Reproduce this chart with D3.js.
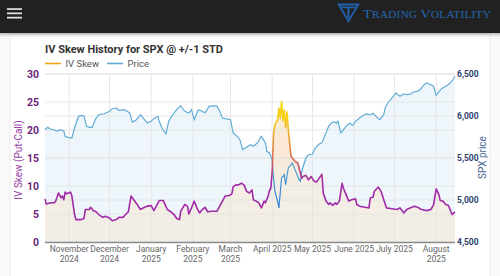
<!DOCTYPE html>
<html>
<head>
<meta charset="utf-8">
<script src="https://cdn.jsdelivr.net/npm/d3@7"></script>
<style>
  body { margin: 0; background: #fff; font-family: Roboto, "Noto Sans", sans-serif; }
</style>
</head>
<body>
<svg id="chart" width="500" height="276"></svg>
<script>
// ---- data ----
const priceDates = ["2024-10-14","2024-10-16","2024-10-18","2024-10-21","2024-10-23","2024-10-25","2024-10-28","2024-10-29","2024-10-31","2024-11-03","2024-11-05","2024-11-07","2024-11-08","2024-11-11","2024-11-12","2024-11-14","2024-11-16","2024-11-18","2024-11-21","2024-11-23","2024-11-27","2024-12-01","2024-12-03","2024-12-06","2024-12-08","2024-12-12","2024-12-14","2024-12-16","2024-12-18","2024-12-21","2024-12-24","2024-12-27","2024-12-29","2025-01-01","2025-01-03","2025-01-06","2025-01-07","2025-01-09","2025-01-12","2025-01-14","2025-01-17","2025-01-20","2025-01-23","2025-01-24","2025-01-26","2025-01-29","2025-01-31","2025-02-02","2025-02-05","2025-02-08","2025-02-10","2025-02-13","2025-02-17","2025-02-19","2025-02-21","2025-02-23","2025-02-25","2025-03-01","2025-03-03","2025-03-06","2025-03-08","2025-03-10","2025-03-12","2025-03-14","2025-03-16","2025-03-18","2025-03-20","2025-03-21","2025-03-23","2025-03-24","2025-03-27","2025-03-28","2025-03-30","2025-03-31","2025-04-01","2025-04-02","2025-04-03","2025-04-05","2025-04-06","2025-04-08","2025-04-10","2025-04-11","2025-04-13","2025-04-15","2025-04-16","2025-04-18","2025-04-21","2025-04-22","2025-04-23","2025-04-26","2025-04-28","2025-05-01","2025-05-03","2025-05-06","2025-05-08","2025-05-10","2025-05-13","2025-05-15","2025-05-17","2025-05-19","2025-05-20","2025-05-22","2025-05-24","2025-05-27","2025-05-29","2025-05-30","2025-05-31","2025-06-02","2025-06-05","2025-06-08","2025-06-10","2025-06-13","2025-06-15","2025-06-18","2025-06-20","2025-06-23","2025-06-24","2025-06-26","2025-06-29","2025-07-02","2025-07-05","2025-07-08","2025-07-10","2025-07-13","2025-07-15","2025-07-18","2025-07-20","2025-07-23","2025-07-25","2025-07-28","2025-07-30","2025-08-01","2025-08-03","2025-08-05","2025-08-08","2025-08-10","2025-08-13","2025-08-15"];
const priceValues = [5837,5865,5845,5833,5818,5837,5821,5758,5746,5738,5857,5956,5996,6008,5996,5877,5865,5865,5976,6015,6027,6056,6087,6095,6068,6075,6056,6036,5928,5956,6015,5956,5917,5937,5968,5996,5937,5857,5789,5937,6015,6075,6123,6095,6056,6036,6075,5956,6075,6056,6036,6115,6123,6115,6056,5976,5968,5956,5798,5758,5718,5599,5619,5639,5658,5639,5667,5679,5738,5758,5679,5580,5560,5520,5480,5262,5104,4985,4905,5262,5301,5182,5381,5420,5440,5361,5242,5223,5342,5500,5539,5548,5619,5667,5680,5758,5877,5917,5929,5917,5937,5798,5837,5896,5917,5896,5889,5937,5976,6008,6024,6015,6032,5984,5956,6015,6095,6155,6214,6274,6235,6262,6254,6262,6286,6294,6313,6373,6393,6373,6354,6246,6286,6325,6354,6373,6420,6473];

const skewDates = ["2024-10-14","2024-10-15","2024-10-18","2024-10-21","2024-10-22","2024-10-24","2024-10-26","2024-10-27","2024-10-28","2024-10-29","2024-10-30","2024-11-02","2024-11-03","2024-11-05","2024-11-06","2024-11-10","2024-11-12","2024-11-13","2024-11-16","2024-11-17","2024-11-19","2024-11-21","2024-11-23","2024-11-26","2024-11-28","2024-12-01","2024-12-03","2024-12-06","2024-12-08","2024-12-11","2024-12-13","2024-12-15","2024-12-17","2024-12-19","2024-12-22","2024-12-24","2024-12-27","2024-12-29","2025-01-01","2025-01-03","2025-01-07","2025-01-10","2025-01-13","2025-01-15","2025-01-18","2025-01-20","2025-01-22","2025-01-23","2025-01-26","2025-01-28","2025-01-29","2025-01-31","2025-02-02","2025-02-04","2025-02-06","2025-02-08","2025-02-10","2025-02-12","2025-02-15","2025-02-19","2025-02-21","2025-02-23","2025-02-25","2025-02-28","2025-03-02","2025-03-03","2025-03-05","2025-03-07","2025-03-09","2025-03-11","2025-03-13","2025-03-15","2025-03-17","2025-03-18","2025-03-20","2025-03-22","2025-03-24","2025-03-26","2025-03-27","2025-03-29","2025-03-30","2025-03-31","2025-04-01","2025-04-02","2025-04-03","2025-04-05","2025-04-06","2025-04-07","2025-04-08","2025-04-09","2025-04-10","2025-04-11","2025-04-12","2025-04-13","2025-04-15","2025-04-16","2025-04-18","2025-04-20","2025-04-21","2025-04-23","2025-04-24","2025-04-26","2025-04-28","2025-04-30","2025-05-02","2025-05-04","2025-05-06","2025-05-08","2025-05-09","2025-05-11","2025-05-13","2025-05-14","2025-05-16","2025-05-18","2025-05-19","2025-05-21","2025-05-23","2025-05-24","2025-05-26","2025-05-28","2025-05-30","2025-06-02","2025-06-03","2025-06-05","2025-06-09","2025-06-12","2025-06-13","2025-06-15","2025-06-16","2025-06-19","2025-06-21","2025-06-23","2025-06-25","2025-06-29","2025-07-03","2025-07-05","2025-07-08","2025-07-10","2025-07-13","2025-07-16","2025-07-19","2025-07-21","2025-07-25","2025-07-28","2025-07-30","2025-08-01","2025-08-03","2025-08-04","2025-08-06","2025-08-08","2025-08-10","2025-08-12","2025-08-13","2025-08-15"];
const skewValues = [7.7,6.8,7.0,7.0,7.3,8.75,7.9,8.2,7.55,8.9,8.6,8.9,8.2,4.9,4.0,4.0,4.2,5.8,5.8,6.2,5.6,5.4,4.9,4.4,4.6,4.3,3.8,4.0,4.4,4.4,4.9,5.4,8.2,7.55,6.55,5.8,6.2,6.4,6.5,5.6,7.4,7.4,5.8,5.5,4.9,4.2,4.0,5.5,6.7,6.4,5.0,6.1,7.3,6.1,5.2,5.8,6.2,5.4,5.5,5.5,6.4,7.3,8.2,8.3,8.6,9.9,10.2,10.2,10.5,10.2,9.05,8.75,9.3,7.55,7.3,7.0,6.1,7.3,7.0,8.2,9.2,9.6,12.6,19.2,20.9,21.8,23.9,22.1,25.1,21.6,23.6,20.4,23.3,20.0,15.3,15.0,14.4,14.1,13.2,11.4,11.7,11.9,11.1,11.7,10.9,10.7,11.4,12.1,8.75,7.3,6.7,7.0,6.55,7.0,6.7,7.3,10.5,9.6,8.45,7.3,7.55,7.7,6.7,6.4,6.2,6.1,7.9,8.0,9.05,9.8,9.05,7.55,6.1,5.95,5.8,6.1,5.2,5.8,6.1,6.4,6.1,5.8,5.6,5.8,6.6,9.5,8.45,7.4,7.3,6.7,6.55,5.4,4.9,5.4];

const monthTicks = ["2024-11-01","2024-12-01","2025-01-01","2025-02-01","2025-03-01","2025-04-01","2025-05-01","2025-06-01","2025-07-01","2025-08-01"];
const monthLabels = [["November","2024"],["December","2024"],["January","2025"],["February","2025"],["March","2025"],["April 2025"],["May 2025"],["June 2025"],["July 2025"],["August","2025"]];
const skewTicks = [0,5,10,15,20,25,30];
const priceTicks = [4500,5000,5500,6000,6500];

const parse = d3.timeParse("%Y-%m-%d");
const price = priceDates.map((d,i) => ({date: parse(d), value: priceValues[i]}));
const skew = skewDates.map((d,i) => ({date: parse(d), value: skewValues[i]}));

const svg = d3.select("#chart");

// page chrome
svg.append("rect").attr("x",0).attr("y",0).attr("width",500).attr("height",276).attr("fill","#fafafa");
svg.append("rect").attr("x",10).attr("y",34).attr("width",480).attr("height",250)
  .attr("fill","#fff").attr("stroke","#ececec");
const shade = svg.append("defs").append("linearGradient").attr("id","shade")
  .attr("x1",0).attr("y1",0).attr("x2",0).attr("y2",1);
shade.append("stop").attr("offset",0).attr("stop-color","#000").attr("stop-opacity",0.25);
shade.append("stop").attr("offset",1).attr("stop-color","#000").attr("stop-opacity",0);
svg.append("rect").attr("x",0).attr("y",33).attr("width",500).attr("height",4).attr("fill","url(#shade)");
svg.append("rect").attr("x",0).attr("y",0).attr("width",500).attr("height",33).attr("fill","#212121");
[9,13.3,17.6].forEach(y => {
  svg.append("rect").attr("x",7).attr("y",y-0.8).attr("width",15).attr("height",1.7).attr("fill","#e4e4e4");
});

// logo
svg.append("path").attr("d","M337,3.5 L360,3.5 L348.5,23 Z").attr("fill","#1f60a8");
svg.append("path").attr("d","M340.5,5.5 L356.5,5.5 L348.5,19.5 Z").attr("fill","#212121");
svg.append("path").attr("d","M341.5,6.5 L355.5,6.5 L355.5,8.3 L349.5,8.3 L349.5,18 L347.5,18 L347.5,8.3 L341.5,8.3 Z").attr("fill","#1f60a8");
const logo = svg.append("text").attr("x",363).attr("y",18.3)
  .attr("font-family","'Liberation Serif', 'DejaVu Serif', serif")
  .attr("fill","#2565ad").attr("textLength",128).attr("lengthAdjust","spacingAndGlyphs");
logo.append("tspan").attr("font-size",13).text("T");
logo.append("tspan").attr("font-size",10.5).text("RADING ");
logo.append("tspan").attr("font-size",13).text("V");
logo.append("tspan").attr("font-size",10.5).text("OLATILITY");

// scales
const x = d3.scaleTime().domain([parse("2024-10-14"), parse("2025-08-15")]).range([45, 455]);
const yL = d3.scaleLinear().domain([0, 30]).range([242, 74]);
const yR = d3.scaleLinear().domain([4500, 6500]).range([242, 74]);

// gradients
const defs = svg.append("defs");
const skewLineGrad = defs.append("linearGradient").attr("id","skewLine")
  .attr("gradientUnits","userSpaceOnUse").attr("x1",0).attr("x2",0).attr("y1",yL(0)).attr("y2",yL(30));
[[0,"#a12aa8"],[11,"#a12aa8"],[14,"#cf5f5c"],[18,"#ee9a3a"],[22,"#f6cd1c"],[30,"#f8e200"]].forEach(s => {
  skewLineGrad.append("stop").attr("offset",s[0]/30).attr("stop-color",s[1]);
});
const skewFillGrad = defs.append("linearGradient").attr("id","skewFill")
  .attr("gradientUnits","userSpaceOnUse").attr("x1",0).attr("x2",0).attr("y1",yL(0)).attr("y2",yL(30));
[[0,"#f3eee5"],[11,"#f4eee5"],[16,"#fbe8d6"],[30,"#fdf2d6"]].forEach(s => {
  skewFillGrad.append("stop").attr("offset",s[0]/30).attr("stop-color",s[1]);
});
const priceLineGrad = defs.append("linearGradient").attr("id","priceLine")
  .attr("gradientUnits","userSpaceOnUse").attr("x1",0).attr("x2",0).attr("y1",yR(4500)).attr("y2",yR(6500));
[[4500,"#2f80d8"],[5100,"#3a8ad4"],[5500,"#5eaad5"],[6500,"#62aed6"]].forEach(s => {
  priceLineGrad.append("stop").attr("offset",(s[0]-4500)/2000).attr("stop-color",s[1]);
});

// fills
svg.append("path").datum(price)
  .attr("fill","#eef6fc")
  .attr("d", d3.area().x(d => x(d.date)).y0(yR(4500)).y1(d => yR(d.value)));
svg.append("path").datum(skew)
  .attr("fill","url(#skewFill)")
  .attr("d", d3.area().x(d => x(d.date)).y0(yL(0)).y1(d => yL(d.value)));

// grid
const grid = svg.append("g").attr("stroke","#e4e4e4").attr("stroke-width",1).attr("opacity",0.85);
skewTicks.forEach(t => grid.append("line").attr("x1",45).attr("x2",455).attr("y1",yL(t)).attr("y2",yL(t)));
priceTicks.forEach(t => grid.append("line").attr("x1",45).attr("x2",455).attr("y1",yR(t)).attr("y2",yR(t)));
monthTicks.forEach(t => grid.append("line").attr("x1",x(parse(t))).attr("x2",x(parse(t))).attr("y1",74).attr("y2",242));

// lines
svg.append("path").datum(price)
  .attr("fill","none").attr("stroke","url(#priceLine)").attr("stroke-width",1.2)
  .attr("d", d3.line().x(d => x(d.date)).y(d => yR(d.value)));
svg.append("path").datum(skew)
  .attr("fill","none").attr("stroke","url(#skewLine)").attr("stroke-width",1.6)
  .attr("stroke-linejoin","round")
  .attr("d", d3.line().x(d => x(d.date)).y(d => yL(d.value)));

// baseline
svg.append("line").attr("x1",45).attr("x2",455).attr("y1",242.5).attr("y2",242.5)
  .attr("stroke","#8c8c8c").attr("stroke-width",1.5);

// left axis
const axL = svg.append("g").attr("transform","translate(45,0)")
  .call(d3.axisLeft(yL).tickValues(skewTicks).tickSize(0).tickPadding(6));
axL.select(".domain").remove();
axL.selectAll("text").attr("font-family","Roboto, sans-serif").attr("font-size",10.5)
  .attr("font-weight","bold").attr("fill","#6d1f7e");

// right axis
const axR = svg.append("g").attr("transform","translate(455,0)")
  .call(d3.axisRight(yR).tickValues(priceTicks).tickSize(0).tickPadding(2).tickFormat(d3.format(",")));
axR.select(".domain").remove();
axR.selectAll("text").attr("font-family","Roboto, sans-serif").attr("font-size",8.5)
  .attr("font-weight","bold").attr("fill","#2c406e");

// bottom axis labels
const axB = svg.append("g");
monthTicks.forEach((t,i) => {
  const tx = axB.append("text").attr("x",x(parse(t))).attr("y",252)
    .attr("text-anchor","middle").attr("font-family","Roboto, sans-serif")
    .attr("font-size",8.5).attr("fill","#666");
  monthLabels[i].forEach((s,j) => {
    tx.append("tspan").attr("x",x(parse(t))).attr("dy", j ? 9.5 : 0).text(s);
  });
});

// axis titles
svg.append("text").attr("transform","translate(22,160) rotate(-90)")
  .attr("text-anchor","middle").attr("font-family","Roboto, sans-serif").attr("font-size",10)
  .attr("fill","#93409f").text("IV Skew (Put-Call)");
svg.append("text").attr("transform","translate(486,157.5) rotate(-90)")
  .attr("text-anchor","middle").attr("font-family","Roboto, sans-serif").attr("font-size",10)
  .attr("fill","#4a6896").text("SPX price");

// title + legend
svg.append("text").attr("x",45).attr("y",52.5).attr("font-family","Roboto, sans-serif")
  .attr("font-size",11).attr("font-weight","bold").attr("fill","#333")
  .text("IV Skew History for SPX @ +/-1 STD");
const legend = [["IV Skew","#f2a61c",45],["Price","#5eaad5",107]];
legend.forEach(l => {
  svg.append("line").attr("x1",l[2]).attr("x2",l[2]+16).attr("y1",63.5).attr("y2",63.5)
    .attr("stroke",l[1]).attr("stroke-width",1.6);
  svg.append("text").attr("x",l[2]+20.5).attr("y",67).attr("font-family","Roboto, sans-serif")
    .attr("font-size",9.5).attr("fill","#555").text(l[0]);
});
</script>
</body>
</html>
